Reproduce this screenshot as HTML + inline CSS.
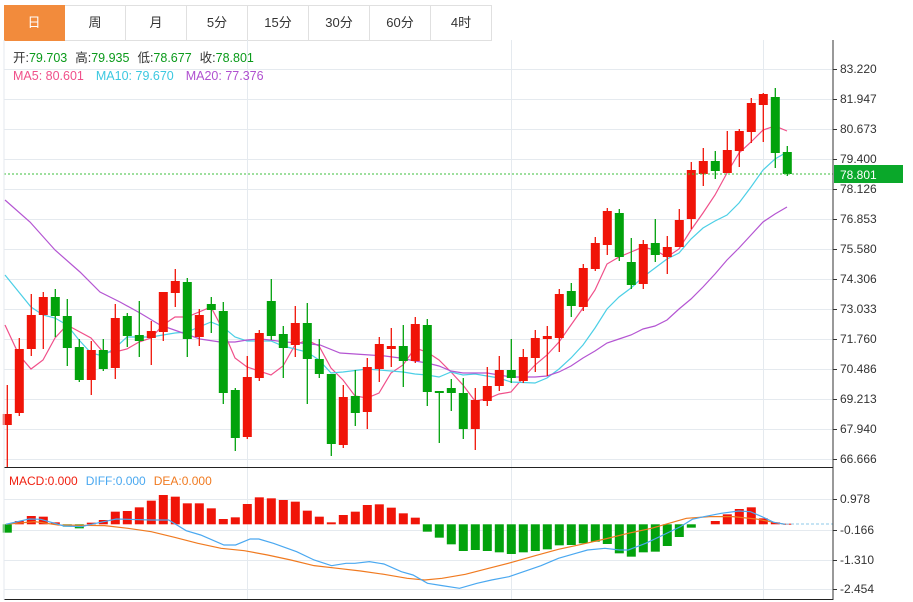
<!DOCTYPE html>
<html><head><meta charset="utf-8"><style>
html,body{margin:0;padding:0;background:#fff;width:913px;height:602px;overflow:hidden;font-family:"Liberation Sans","Noto Sans CJK SC",sans-serif;}
.tabs{position:absolute;left:4px;top:5px;height:35px;display:flex;}
.tab{width:60px;height:34px;border:1px solid #e0e0e0;border-left:none;line-height:34px;text-align:center;font-size:13px;color:#333;}
.tab.on{background:#f28b3c;color:#fff;border-color:#f28b3c;}
svg{position:absolute;left:0;top:0;}
</style></head><body>
<div class="tabs"><div class="tab on">日</div><div class="tab">周</div><div class="tab">月</div><div class="tab">5分</div><div class="tab">15分</div><div class="tab">30分</div><div class="tab">60分</div><div class="tab">4时</div></div>
<svg id="s" width="913" height="602" xmlns="http://www.w3.org/2000/svg" font-family="Liberation Sans, Noto Sans CJK SC, sans-serif" font-size="12">
<g id="grid" stroke="#e5eaef" stroke-width="1"></g>
<g id="ma" fill="none" stroke-width="1.2"></g>
<g id="cd"></g>
<g id="mb"></g>
<g fill="none" stroke-width="1.2" transform="translate(0,465) scale(0.5817,0.3333)">
<polyline vector-effect="non-scaling-stroke" stroke="#f07a20" points="10,178 60,170 100,180 180,182 220,190 260,200 300,217 340,235 380,250 420,257 460,270 500,285 540,302 580,310 620,318 660,328 700,340 730,345 760,340 800,328 840,310 880,292 920,272 960,253 1000,238 1040,222 1080,205 1120,190 1150,175 1180,160 1220,155 1260,155 1300,162 1330,172 1350,178"/>
<polyline vector-effect="non-scaling-stroke" stroke="#4aa8f0" points="10,178 50,162 70,163 110,183 140,185 165,175 200,162 260,165 290,165 320,197 345,210 385,240 405,240 430,222 445,222 470,235 510,260 540,285 570,302 595,295 610,295 635,290 660,297 690,320 710,330 735,355 760,362 790,370 820,355 845,345 875,335 900,320 930,302 960,280 990,265 1010,255 1040,250 1065,255 1080,255 1110,235 1140,210 1170,185 1190,163 1210,155 1240,145 1270,138 1290,140 1310,155 1330,172 1350,178"/>
</g>
<line x1="786" y1="524" x2="833" y2="524" stroke="#8cc8e8" stroke-dasharray="3,2"/>
<line x1="4" y1="174" x2="833" y2="174" stroke="#3cbf3c" stroke-dasharray="2,2"/>
<line x1="833" y1="40" x2="833" y2="600" stroke="#333"/>
<line x1="4" y1="467.5" x2="833" y2="467.5" stroke="#222"/>
<line x1="4" y1="599.5" x2="833" y2="599.5" stroke="#222"/>
<line x1="4" y1="40" x2="4" y2="600" stroke="#e5eaef"/>
<g id="ax" fill="#333"></g>
<rect x="834" y="165" width="69" height="18" fill="#0aa82a"/>
<text x="840" y="179" fill="#fff">78.801</text>
<text x="13" y="62" font-size="12.5"><tspan fill="#333">开:</tspan><tspan fill="#0a9a1a">79.703</tspan><tspan fill="#333" dx="8">高:</tspan><tspan fill="#0a9a1a">79.935</tspan><tspan fill="#333" dx="8">低:</tspan><tspan fill="#0a9a1a">78.677</tspan><tspan fill="#333" dx="8">收:</tspan><tspan fill="#0a9a1a">78.801</tspan></text>
<text x="13" y="80" font-size="12.5"><tspan fill="#f0508a">MA5: 80.601</tspan><tspan fill="#3cc8e0" dx="12">MA10: 79.670</tspan><tspan fill="#b050d0" dx="12">MA20: 77.376</tspan></text>
<text x="9" y="485" font-size="12"><tspan fill="#f02010">MACD:0.000</tspan><tspan fill="#4aa8f0" dx="8">DIFF:0.000</tspan><tspan fill="#f07a20" dx="8">DEA:0.000</tspan></text>
</svg>
<script>
var NS="http://www.w3.org/2000/svg";
function el(p,t,a){var e=document.createElementNS(NS,t);for(var k in a)e.setAttribute(k,a[k]);document.getElementById(p).appendChild(e);return e;}
// grid
var pl=["83.220","81.947","80.673","79.400","78.126","76.853","75.580","74.306","73.033","71.760","70.486","69.213","67.940","66.666"];
for(var i=0;i<14;i++){var y=69+i*30;el("grid","line",{x1:4,x2:833,y1:y+.5,y2:y+.5});el("ax","line",{x1:833,x2:837,y1:y+.5,y2:y+.5,stroke:"#333"});var t=el("ax","text",{x:840,y:y+4});t.textContent=pl[i];}
var ml=[["0.978",499],["-0.166",530],["-1.310",560],["-2.454",589]];
ml.forEach(function(m){el("grid","line",{x1:4,x2:833,y1:m[1]+.5,y2:m[1]+.5});el("ax","line",{x1:833,x2:837,y1:m[1]+.5,y2:m[1]+.5,stroke:"#333"});var t=el("ax","text",{x:840,y:m[1]+4});t.textContent=m[0];});
[247,511,763].forEach(function(x){el("grid","line",{x1:x+.5,x2:x+.5,y1:40,y2:600});});
// candles: [color, bodyTop, bodyBot, wickTop, wickBot]
var C=[["r",414,425,385,467],["r",349,413,338,416],["r",315,349,294,356],["r",297,315,292,349],["g",297,316,289,337],["g",316,348,299,366],["g",347,380,339,382],["r",350,380,341,395],["g",350,369,339,371],["r",318,368,304,379],["g",316,336,313,347],["g",335,341,301,357],["r",331,338,321,365],["r",292,332,292,341],["r",281,293,269,307],["g",282,339,278,357],["r",315,337,309,346],["g",304,310,297,333],["g",311,393,302,404],["g",390,438,388,451],["r",377,437,356,439],["r",333,378,330,381],["g",301,336,279,340],["g",334,348,326,378],["r",323,345,306,357],["g",323,359,303,404],["g",359,374,339,378],["g",374,444,374,456],["r",397,445,385,448],["g",396,413,370,426],["r",367,412,358,429],["r",344,369,337,382],["r",346,349,328,367],["g",346,361,325,387],["r",324,361,317,363],["g",325,392,319,406],["g",391,393,391,443],["g",388,393,379,411],["g",393,429,378,439],["r",400,429,388,450],["r",386,401,367,406],["r",370,386,356,391],["g",370,378,339,383],["r",357,381,349,383],["r",338,358,330,372],["r",336,339,326,376],["r",294,338,289,352],["g",291,306,283,317],["r",268,307,264,311],["r",243,269,237,271],["r",211,245,208,255],["g",213,257,209,261],["g",262,285,238,289],["r",244,284,240,289],["g",243,255,219,262],["r",247,257,236,274],["r",220,247,209,247],["r",170,219,162,229],["r",161,174,148,186],["g",161,171,151,179],["r",150,173,131,173],["r",131,151,129,167],["r",103,132,98,143],["r",94,105,93,142],["g",97,153,88,168],["g",152,174,146,176]];
C.forEach(function(c,i){var x=7.3+12*i;var col=c[0]=="r"?"#f01408":"#02a20c";el("cd","line",{x1:x,x2:x,y1:c[3],y2:c[4],stroke:col,"stroke-width":1.3});el("cd","rect",{x:x-4.5,y:c[1],width:9,height:Math.max(1.5,c[2]-c[1]),fill:col});});
// MA lines
function poly(pts,col){el("ma","polyline",{points:pts,stroke:col});}
poly("5,325 19,355 31,369 43,360 55,338 67,325 91,338 103,352 115,352 127,349 139,342 151,338 163,325 175,317 187,317 211,307 223,330 235,358 247,367 271,375 283,366 295,345 307,340 319,346 331,368 343,380 355,396 367,398 379,393 391,373 403,365 415,348 427,352 439,360 451,372 463,385 475,401 487,399 499,394 511,392 523,378 535,365 547,355 559,342 571,325 583,308 595,290 607,264 619,257 631,252 643,247 655,250 667,257 679,249 691,230 703,213 715,195 727,173 739,153 751,142 763,130 775,126 787,131","#f0508a");
poly("5,275 31,307 43,315 55,318 67,325 79,340 91,353 103,356 115,348 127,337 151,337 175,333 187,332 211,322 223,327 235,337 247,341 271,341 283,346 307,352 319,360 331,373 343,372 367,369 391,371 403,372 415,374 427,375 439,377 451,372 463,375 475,374 487,376 499,378 511,382 535,383 547,378 559,369 571,358 583,345 595,328 607,309 619,297 631,288 643,277 655,268 667,259 679,253 691,239 703,228 715,221 727,215 739,203 751,187 763,170 775,159 787,152","#4ccfe6");
poly("5,200 30,222 55,250 80,272 100,292 120,302 140,313 160,325 180,332 200,339 220,342 235,342 247,340 260,339 270,340 285,342 300,343 320,345 340,353 355,354 370,355 385,356 400,358 415,361 427,363 439,366 451,371 463,373 475,373 487,373 499,375 511,377 523,377 535,377 547,376 559,372 571,366 583,358 595,351 607,343 619,339 631,335 643,329 655,326 667,320 679,309 691,299 703,287 715,274 727,260 739,248 751,235 763,222 775,214 787,207","#b455d2");
// MACD bars (top Y for red / bottom Y for green, zoom units)
var B=[["g",203],["r",168],["r",153],["r",155],["r",172],["g",185],["g",190],["r",173],["r",165],["r",140],["r",138],["r",127],["r",107],["r",90],["r",95],["r",115],["r",115],["r",130],["r",162],["r",157],["r",117],["r",97],["r",100],["r",105],["r",110],["r",137],["r",155],["r",172],["r",150],["r",140],["r",120],["r",118],["r",128],["r",145],["r",158],["g",200],["g",218],["g",238],["g",258],["g",255],["g",258],["g",262],["g",267],["g",262],["g",258],["g",253],["g",241],["g",240],["g",235],["g",230],["g",237],["g",265],["g",275],["g",262],["g",260],["g",243],["g",216],["g",188],null,["r",168],["r",148],["r",132],["r",127],["r",160],["r",172],["r",176]];
var z=524.3;
B.forEach(function(b,i){if(!b)return;var x=7.3+12*i;var y=465+b[1]/3;if(b[0]=="r")el("mb","rect",{x:x-4.5,y:y,width:9,height:Math.max(1,z-y),fill:"#f01408"});else el("mb","rect",{x:x-4.5,y:z,width:9,height:Math.max(1,y-z),fill:"#02a20c"});});
</script>
</body></html>
